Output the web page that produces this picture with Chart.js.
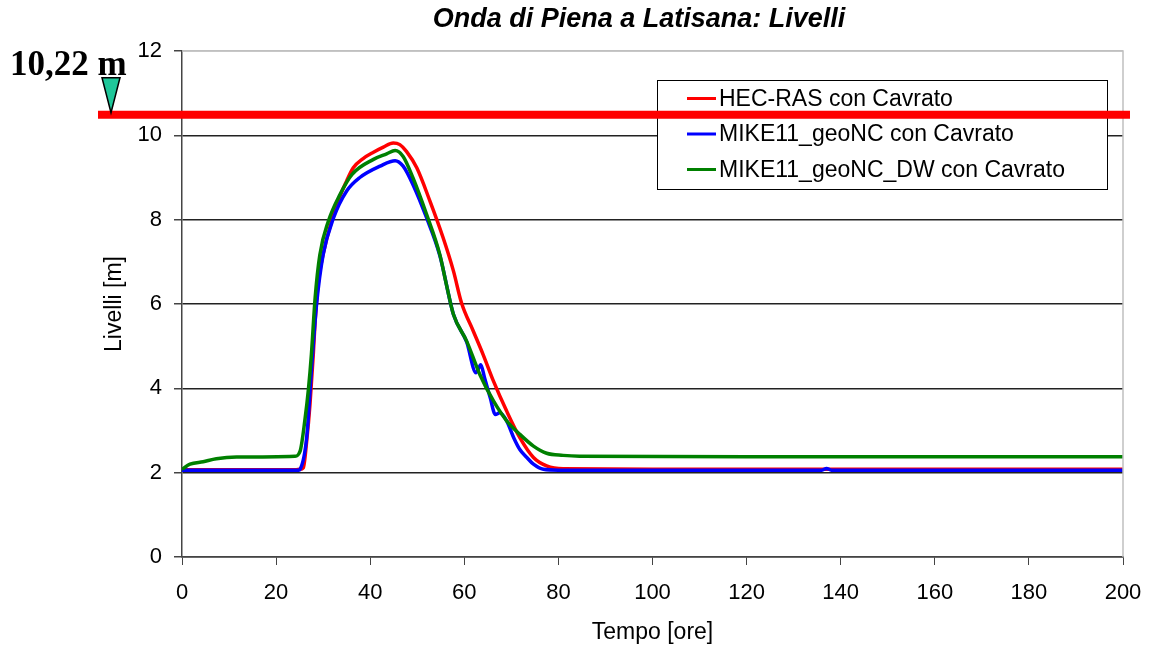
<!DOCTYPE html>
<html>
<head>
<meta charset="utf-8">
<title>Onda di Piena a Latisana: Livelli</title>
<script src="https://cdn.jsdelivr.net/npm/chart.js"></script>
<style>
  body { margin: 0; background: #fff; }
  #wrap { width: 1153px; height: 651px; }
</style>
</head>
<body>
<div id="wrap"><canvas id="chart" width="1153" height="651"></canvas></div>
<script>
// data: tempo [ore] and livelli [m]
const serieNomi = ['HEC-RAS con Cavrato', 'MIKE11_geoNC con Cavrato', 'MIKE11_geoNC_DW con Cavrato'];
const serieColori = ['#ff0000', '#0000ff', '#008000'];

const tempoHec = [0, 10, 24, 25, 25.8, 26.5, 27.2, 27.9, 28.3, 29.0, 29.7, 31.4, 33.2, 35.0, 36.4, 38.5, 40.7, 42.8, 44.9, 46.3, 47.7, 49.9, 52.7, 55.5, 57.7, 59.4, 61.9, 64.0, 66.2, 69.0, 71.8, 74.7, 77.5, 81, 100, 150, 200];
const livelloHec = [2.07, 2.07, 2.07, 2.08, 2.12, 2.75, 3.62, 4.8, 5.6, 6.54, 7.02, 7.81, 8.45, 8.92, 9.23, 9.45, 9.6, 9.72, 9.82, 9.78, 9.62, 9.23, 8.44, 7.57, 6.78, 6.03, 5.36, 4.8, 4.17, 3.46, 2.83, 2.36, 2.16, 2.09, 2.08, 2.08, 2.08];

const tempoMike = [0, 10, 24.8, 25.1, 26.5, 27.5, 28.6, 30.0, 32.2, 35.0, 37.8, 42.1, 45.3, 47.0, 49.1, 52.0, 54.8, 57.7, 60.5, 62.5, 63.5, 64.3, 65.5, 66.6, 67.5, 69.0, 70.5, 71.8, 73.3, 74.7, 76.8, 80, 100, 136, 137, 138, 170, 200];
const livelloMike = [2.06, 2.06, 2.06, 2.08, 2.83, 4.41, 5.99, 7.17, 8.04, 8.68, 9.0, 9.27, 9.4, 9.27, 8.83, 8.04, 7.15, 5.75, 5.1, 4.37, 4.56, 4.25, 3.78, 3.38, 3.42, 3.23, 2.83, 2.55, 2.36, 2.2, 2.08, 2.06, 2.06, 2.06, 2.1, 2.06, 2.06, 2.06];

const tempoDw = [0, 1.7, 4.5, 7.3, 11.6, 24.0, 25.1, 26.1, 26.9, 27.5, 28.3, 29.3, 31.1, 33.6, 36.1, 40.7, 43.5, 45.3, 47.0, 49.1, 52.0, 54.8, 56.2, 57.7, 60.5, 63.3, 66.2, 69.0, 71.8, 74.7, 77.5, 81, 84.5, 120, 200];
const livelloDw = [2.08, 2.2, 2.26, 2.33, 2.37, 2.39, 2.51, 3.23, 4.01, 4.8, 6.15, 7.17, 7.96, 8.6, 9.07, 9.43, 9.56, 9.64, 9.5, 8.99, 8.12, 7.17, 6.46, 5.75, 5.12, 4.33, 3.7, 3.23, 2.91, 2.63, 2.46, 2.41, 2.39, 2.38, 2.38];

// quota arginale segnata sul grafico
const sogliaEtichetta = '10,22 m';
const sogliaLivello = 10.49;

const xTicks = { min: 0, max: 200, step: 20 };
const yTicks = { min: 0, max: 12, step: 2 };

function punti(t, v) {
  return t.map((x, i) => ({ x: x, y: v[i] }));
}

Chart.defaults.font.family = "'Liberation Sans', Arial, sans-serif";
Chart.defaults.color = '#000';

// legend, title, border and the threshold marker
const decoPlugin = {
  id: 'deco',
  afterDraw(chart) {
    const ctx = chart.ctx;
    const a = chart.chartArea;
    const ys = chart.scales.y;
    ctx.save();

    // plot border top / right (light)
    ctx.strokeStyle = '#c0c0c0';
    ctx.lineWidth = 1.5;
    ctx.beginPath();
    ctx.moveTo(a.left, a.top);
    ctx.lineTo(a.right, a.top);
    ctx.lineTo(a.right, a.bottom);
    ctx.stroke();

    // title
    ctx.fillStyle = '#000';
    ctx.font = "italic bold 27px 'Liberation Sans', Arial";
    ctx.textAlign = 'center';
    ctx.textBaseline = 'middle';
    ctx.fillText('Onda di Piena a Latisana: Livelli', 639, 20);

    // legend box
    const lx = 657, ly = 80, lw = 450, lh = 109;
    ctx.fillStyle = '#fff';
    ctx.fillRect(lx, ly, lw, lh);
    ctx.strokeStyle = '#000';
    ctx.lineWidth = 1;
    ctx.strokeRect(lx + 0.5, ly + 0.5, lw, lh);
    ctx.font = "23px 'Liberation Sans', Arial";
    ctx.textAlign = 'left';
    chart.data.datasets.forEach((ds, i) => {
      const yy = ly + 18.5 + i * 35.5;
      ctx.strokeStyle = ds.borderColor;
      ctx.lineWidth = 3;
      ctx.beginPath();
      ctx.moveTo(687, yy);
      ctx.lineTo(716, yy);
      ctx.stroke();
      ctx.fillStyle = '#000';
      ctx.fillText(ds.label, 719, yy + 1);
    });

    // threshold line
    const yp = ys.getPixelForValue(sogliaLivello);
    ctx.strokeStyle = '#ff0000';
    ctx.lineWidth = 8;
    ctx.beginPath();
    ctx.moveTo(a.left - 84, yp);
    ctx.lineTo(a.right + 7, yp);
    ctx.stroke();

    // marker triangle
    ctx.fillStyle = '#1fc79a';
    ctx.strokeStyle = '#000';
    ctx.lineWidth = 1.5;
    ctx.beginPath();
    ctx.moveTo(102, yp - 37);
    ctx.lineTo(120, yp - 37);
    ctx.lineTo(111, yp - 2);
    ctx.closePath();
    ctx.fill();
    ctx.stroke();

    ctx.fillStyle = '#000';
    ctx.font = "bold 35px 'Liberation Serif', 'Times New Roman', serif";
    ctx.textAlign = 'left';
    ctx.textBaseline = 'alphabetic';
    ctx.fillText(sogliaEtichetta, 10, 75);
    ctx.restore();
  }
};

new Chart(document.getElementById('chart'), {
  type: 'line',
  data: {
    datasets: [
      { label: serieNomi[0], data: punti(tempoHec, livelloHec), borderColor: serieColori[0], order: 2 },
      { label: serieNomi[1], data: punti(tempoMike, livelloMike), borderColor: serieColori[1], order: 1 },
      { label: serieNomi[2], data: punti(tempoDw, livelloDw), borderColor: serieColori[2], order: 0 }
    ]
  },
  options: {
    responsive: false,
    animation: false,
    layout: { padding: { top: 51, right: 30, bottom: 0, left: 0 } },
    elements: {
      point: { radius: 0 },
      line: { borderWidth: 3.5, cubicInterpolationMode: 'monotone', fill: false }
    },
    plugins: {
      legend: { display: false },
      title: { display: false },
      tooltip: { enabled: false }
    },
    scales: {
      x: {
        type: 'linear',
        min: xTicks.min,
        max: xTicks.max,
        afterFit(s) { s.height = 94; s.paddingRight = 18; s.paddingLeft = 0; },
        ticks: { stepSize: xTicks.step, font: { size: 22 }, padding: 15, maxRotation: 0 },
        grid: { drawOnChartArea: false, tickLength: 8, color: '#444', tickColor: '#444' },
        border: { color: '#444', width: 1.5 },
        title: { display: true, text: 'Tempo [ore]', font: { size: 23 }, padding: { top: 0, bottom: 5 } }
      },
      y: {
        min: yTicks.min,
        max: yTicks.max,
        afterFit(s) { s.width = 182; },
        ticks: { stepSize: yTicks.step, font: { size: 22 }, padding: 12 },
        grid: {
          tickLength: 8,
          lineWidth: 1.5,
          color: c => (c.tick && c.tick.value === yTicks.max ? '#c0c0c0' : '#222'),
          tickColor: '#444'
        },
        border: { color: '#444', width: 1.5 },
        title: { display: true, text: 'Livelli [m]', font: { size: 23 }, padding: { top: 101, bottom: 0 } }
      }
    }
  },
  plugins: [decoPlugin]
});
</script>
</body>
</html>
